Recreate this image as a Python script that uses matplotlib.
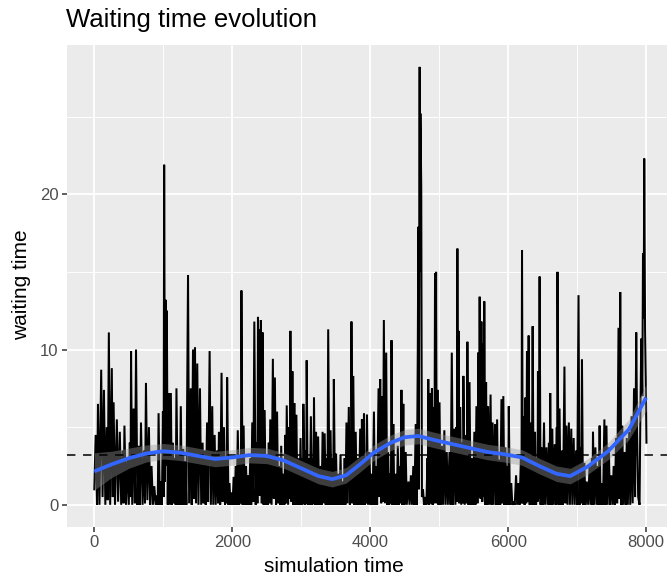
import matplotlib
matplotlib.use("Agg")
import matplotlib.pyplot as plt

plt.rcParams['font.family'] = ['Liberation Sans', 'DejaVu Sans']

# ---- data ----
sim_time = [
    0, 20, 40, 53, 75, 100, 120, 140, 160, 180, 195, 211, 230, 254, 268, 280, 300, 327, 345, 370,
    390, 410, 425, 437, 460, 480, 500, 515, 525, 533, 550, 570, 588, 605, 625, 645, 660, 677, 700, 720,
    735, 749, 770, 792, 810, 830, 850, 870, 890, 910, 920, 932, 950, 965, 980, 995, 1005, 1013, 1025, 1035,
    1045, 1052, 1065, 1080, 1095, 1110, 1125, 1140, 1155, 1170, 1180, 1191, 1210, 1230, 1240, 1254, 1270, 1290, 1305, 1320,
    1335, 1359, 1375, 1398, 1412, 1431, 1445, 1460, 1475, 1493, 1510, 1532, 1550, 1570, 1585, 1600, 1615, 1635, 1650, 1672,
    1690, 1710, 1725, 1745, 1760, 1780, 1795, 1807, 1825, 1845, 1860, 1880, 1895, 1910, 1918, 1926, 1945, 1960, 1975, 1990,
    2005, 2020, 2035, 2050, 2065, 2080, 2100, 2115, 2125, 2133, 2150, 2165, 2180, 2200, 2215, 2230, 2245, 2260, 2275, 2290,
    2305, 2320, 2340, 2355, 2365, 2373, 2388, 2400, 2406, 2415, 2428, 2440, 2455, 2470, 2485, 2500, 2515, 2530, 2540, 2551,
    2570, 2589, 2603, 2618, 2635, 2650, 2665, 2680, 2695, 2710, 2725, 2740, 2755, 2770, 2780, 2790, 2810, 2825, 2835, 2843,
    2858, 2872, 2886, 2900, 2915, 2930, 2945, 2960, 2975, 2990, 3005, 3018, 3025, 3031, 3050, 3065, 3072, 3079, 3095, 3110,
    3125, 3140, 3160, 3172, 3178, 3185, 3200, 3215, 3230, 3245, 3260, 3280, 3295, 3310, 3325, 3340, 3355, 3370, 3380, 3391,
    3410, 3425, 3440, 3455, 3463, 3473, 3490, 3505, 3520, 3540, 3555, 3570, 3585, 3600, 3615, 3630, 3640, 3656, 3670, 3690,
    3705, 3716, 3722, 3728, 3740, 3755, 3770, 3790, 3805, 3820, 3835, 3855, 3868, 3880, 3895, 3910, 3925, 3940, 3946, 3953,
    3970, 3990, 4005, 4020, 4035, 4054, 4070, 4085, 4100, 4121, 4133, 4145, 4160, 4172, 4185, 4198, 4215, 4232, 4245, 4260,
    4275, 4290, 4300, 4309, 4322, 4335, 4350, 4370, 4385, 4400, 4415, 4430, 4440, 4453, 4466, 4480, 4495, 4515, 4530, 4555,
    4570, 4590, 4605, 4625, 4640, 4660, 4675, 4690, 4698, 4705, 4717, 4722, 4728, 4740, 4750, 4765, 4780, 4800, 4815, 4830,
    4836, 4842, 4855, 4870, 4882, 4895, 4905, 4918, 4930, 4940, 4947, 4955, 4965, 4975, 4990, 5005, 5020, 5040, 5055, 5075,
    5090, 5110, 5125, 5150, 5165, 5183, 5200, 5220, 5235, 5250, 5258, 5264, 5272, 5280, 5290, 5305, 5320, 5340, 5346, 5351,
    5370, 5390, 5400, 5409, 5425, 5440, 5455, 5475, 5490, 5510, 5525, 5540, 5555, 5567, 5577, 5587, 5600, 5612, 5625, 5635,
    5645, 5654, 5668, 5680, 5695, 5710, 5725, 5745, 5760, 5775, 5790, 5810, 5825, 5840, 5855, 5870, 5885, 5903, 5915, 5930,
    5945, 5960, 5975, 5990, 6000, 6009, 6025, 6045, 6060, 6080, 6095, 6115, 6130, 6150, 6165, 6185, 6193, 6201, 6212, 6225,
    6238, 6250, 6262, 6273, 6285, 6297, 6312, 6330, 6342, 6355, 6370, 6390, 6405, 6420, 6426, 6432, 6443, 6456, 6470, 6485,
    6500, 6520, 6535, 6555, 6570, 6590, 6600, 6610, 6625, 6640, 6655, 6675, 6690, 6705, 6710, 6715, 6730, 6745, 6760, 6780,
    6795, 6816, 6830, 6845, 6860, 6880, 6895, 6915, 6930, 6950, 6965, 6985, 7000, 7020, 7035, 7050, 7060, 7070, 7085, 7105,
    7120, 7140, 7160, 7180, 7195, 7215, 7222, 7230, 7245, 7265, 7280, 7300, 7312, 7326, 7340, 7360, 7375, 7395, 7410, 7425,
    7440, 7460, 7475, 7495, 7510, 7530, 7545, 7565, 7580, 7600, 7612, 7625, 7640, 7655, 7670, 7690, 7705, 7720, 7735, 7755,
    7770, 7790, 7805, 7825, 7840, 7857, 7870, 7885, 7905, 7915, 7930, 7945, 7955, 7965, 7973, 7985, 7995, 8005,
]
waiting_time = [
    1.0, 4.5, 0.0, 6.5, 0.0, 8.7, 0.5, 7.4, 0.0, 5.0, 0.3, 11.1, 0.0, 8.8, 0.5, 6.6, 0.0, 5.5, 0.2, 4.7,
    0.0, 3.5, 0.1, 5.1, 0.0, 3.0, 0.0, 4.0, 0.5, 9.9, 0.0, 6.2, 0.1, 10.0, 0.0, 3.8, 0.0, 5.3, 0.0, 3.5,
    0.1, 7.85, 0.3, 5.0, 0.0, 2.5, 0.0, 1.2, 0.0, 0.6, 0.0, 5.9, 0.0, 1.5, 0.0, 6.0, 0.5, 21.9, 1.5, 13.2,
    2.5, 12.5, 0.0, 7.2, 0.0, 7.2, 0.0, 4.0, 0.1, 3.0, 0.0, 7.5, 0.0, 3.5, 0.0, 6.35, 0.0, 3.6, 0.0, 2.8,
    0.0, 14.8, 0.1, 7.5, 0.0, 10.0, 0.4, 10.15, 0.1, 9.1, 0.0, 7.5, 0.0, 4.0, 0.1, 3.5, 0.0, 5.3, 0.2, 9.9,
    0.0, 6.35, 0.0, 4.5, 0.0, 3.5, 0.1, 4.7, 0.0, 8.5, 0.2, 5.0, 0.0, 3.0, 0.1, 8.2, 0.0, 1.4, 0.0, 0.8,
    0.0, 1.8, 0.0, 2.5, 0.0, 4.8, 0.0, 3.0, 0.1, 13.8, 0.0, 5.1, 0.0, 2.5, 0.0, 1.9, 0.0, 3.0, 0.0, 5.3,
    0.2, 11.8, 0.0, 4.0, 0.1, 12.1, 0.6, 11.3, 0.6, 11.9, 0.1, 11.1, 0.0, 6.1, 0.0, 3.0, 0.0, 4.0, 0.1, 5.5,
    0.0, 9.4, 0.4, 8.2, 0.0, 6.0, 0.1, 2.5, 0.0, 3.8, 0.0, 2.0, 0.0, 4.5, 0.1, 6.4, 0.0, 5.0, 0.4, 11.2,
    0.2, 8.6, 0.0, 6.55, 0.0, 5.8, 0.0, 3.0, 0.0, 4.3, 0.0, 3.0, 0.1, 6.5, 0.0, 3.5, 0.1, 9.3, 0.0, 3.0,
    0.0, 5.7, 0.0, 3.0, 0.1, 6.9, 0.0, 4.7, 0.0, 4.4, 0.0, 2.5, 0.0, 4.7, 0.1, 4.6, 0.0, 3.0, 0.0, 11.3,
    0.0, 4.8, 0.0, 3.0, 0.0, 8.1, 0.0, 3.3, 0.0, 2.0, 0.0, 3.2, 0.0, 1.5, 0.0, 3.0, 0.0, 5.3, 0.1, 6.3,
    0.0, 4.0, 0.2, 11.8, 0.1, 8.3, 0.0, 4.7, 0.0, 3.0, 0.0, 4.9, 0.0, 5.5, 0.0, 5.9, 0.0, 3.0, 0.1, 5.8,
    0.0, 3.4, 0.0, 2.0, 0.0, 6.0, 0.0, 2.5, 0.0, 7.5, 0.5, 8.1, 0.1, 7.0, 0.2, 11.9, 0.1, 9.8, 0.0, 3.4,
    0.0, 2.0, 0.1, 10.6, 0.0, 5.2, 0.0, 2.0, 0.0, 3.8, 0.0, 2.5, 0.1, 7.4, 0.0, 6.5, 0.0, 3.4, 0.0, 1.5,
    0.0, 1.9, 0.0, 2.5, 0.0, 5.2, 0.0, 10.0, 17.9, 1.0, 28.2, 15.0, 25.2, 20.5, 0.5, 1.0, 0.0, 0.5, 0.0, 3.0,
    0.1, 8.1, 0.0, 7.2, 0.1, 7.5, 0.0, 6.3, 0.1, 14.9, 1.5, 15.0, 0.1, 7.4, 0.0, 6.6, 0.0, 3.8, 0.0, 4.8,
    0.0, 3.4, 0.0, 3.4, 0.0, 9.8, 0.0, 4.9, 0.0, 5.0, 0.2, 16.5, 1.5, 11.2, 0.1, 6.3, 0.0, 4.0, 0.1, 8.3,
    0.0, 4.5, 0.1, 10.5, 0.0, 7.9, 0.0, 3.0, 0.0, 4.7, 0.0, 6.35, 0.1, 9.8, 0.5, 13.4, 0.4, 11.8, 0.2, 10.4,
    0.5, 13.1, 0.0, 7.9, 0.0, 6.35, 0.0, 7.1, 0.0, 5.3, 0.0, 5.2, 0.0, 5.5, 0.0, 2.9, 0.0, 6.8, 0.1, 7.0,
    0.0, 3.7, 0.0, 2.5, 0.0, 6.35, 0.0, 1.4, 0.0, 0.2, 0.0, 1.9, 0.0, 1.4, 0.0, 3.0, 0.1, 16.4, 0.1, 5.7,
    0.0, 6.9, 0.1, 9.9, 0.2, 10.9, 0.0, 5.3, 0.0, 11.5, 0.0, 4.7, 0.0, 3.0, 0.2, 8.6, 0.4, 14.7, 0.0, 3.7,
    0.0, 5.3, 0.0, 3.7, 0.0, 4.0, 0.0, 7.2, 0.0, 4.9, 0.0, 3.9, 0.0, 5.0, 0.1, 15.0, 0.0, 6.2, 0.0, 3.5,
    0.0, 8.9, 0.1, 5.1, 0.0, 5.3, 0.0, 4.9, 0.0, 4.3, 0.0, 3.5, 0.0, 13.5, 0.0, 3.7, 0.1, 9.35, 0.0, 2.7,
    0.0, 1.5, 0.0, 2.5, 0.0, 3.0, 0.0, 4.7, 0.0, 3.7, 0.0, 2.5, 0.0, 5.1, 0.0, 1.4, 0.0, 5.5, 0.0, 5.1,
    0.0, 3.7, 0.0, 1.9, 0.0, 2.5, 0.0, 4.3, 0.1, 11.4, 0.4, 13.7, 0.0, 5.1, 0.0, 3.4, 0.0, 4.3, 0.0, 4.7,
    0.0, 5.7, 0.1, 7.5, 0.5, 11.1, 4.5, 0.5, 0.0, 5.0, 10.7, 7.0, 16.2, 12.0, 22.3, 11.3, 8.0, 4.0,
]

smooth_time = [0, 250, 500, 750, 1000, 1250, 1500, 1750, 2000, 2250, 2500, 2750, 3000, 3250, 3450, 3650,
               3850, 4050, 4300, 4500, 4700, 4950, 5200, 5450, 5700, 5950, 6200, 6450, 6700, 6900, 7150,
               7450, 7750, 8000]
smooth_wait = [2.15, 2.6, 3.0, 3.3, 3.45, 3.35, 3.15, 2.95, 3.05, 3.2, 3.15, 2.85, 2.35, 1.85, 1.65, 1.9,
               2.6, 3.35, 4.0, 4.35, 4.43, 4.15, 3.9, 3.65, 3.4, 3.25, 3.05, 2.5, 2.0, 1.85, 2.45,
               3.45, 4.85, 6.9]
smooth_se = [1.2, 0.85, 0.65, 0.55, 0.5, 0.5, 0.5, 0.5, 0.5, 0.5, 0.5, 0.5, 0.5, 0.5, 0.5, 0.5,
             0.5, 0.5, 0.5, 0.5, 0.5, 0.5, 0.5, 0.5, 0.5, 0.5, 0.5, 0.5, 0.5, 0.5, 0.5,
             0.55, 0.65, 0.85]

mean_wait = 3.2

x_ticks = [0, 2000, 4000, 6000, 8000]
x_minor = [1000, 3000, 5000, 7000]
y_ticks = [0, 10, 20]
y_minor = [5, 15, 25]

# ---- figure ----
W, H = 667, 581
fig = plt.figure(figsize=(W / 100, H / 100), dpi=100)
ax = fig.add_axes([66.7 / W, (H - 526.7) / H, (673.7 - 66.7) / W, (526.7 - 45) / H])
ax.set_facecolor('#EBEBEB')
for s in ax.spines.values():
    s.set_visible(False)

ax.set_xlim(-400, 8400)
ax.set_ylim(-1.41, 29.61)
ax.set_xticks(x_ticks)
ax.set_xticks(x_minor, minor=True)
ax.set_yticks(y_ticks)
ax.set_yticks(y_minor, minor=True)
ax.set_xticklabels([str(v) for v in x_ticks])
ax.set_yticklabels([str(v) for v in y_ticks])
ax.grid(which='major', color='white', linewidth=1.3)
ax.grid(which='minor', color='white', linewidth=0.65)
ax.set_axisbelow(True)
ax.tick_params(which='major', length=3.4, width=1.1, color='#333333',
               labelsize=12, labelcolor='#4D4D4D', pad=2.5)
ax.tick_params(which='minor', length=0)

ax.plot(sim_time, waiting_time, color='black', linewidth=1.45, solid_joinstyle='miter', zorder=2)

lo = [m - s for m, s in zip(smooth_wait, smooth_se)]
hi = [m + s for m, s in zip(smooth_wait, smooth_se)]
ax.fill_between(smooth_time, lo, hi, color='#999999', alpha=0.4, linewidth=0, zorder=3)
ax.axhline(mean_wait, color='black', linewidth=1.1, dashes=(5.5, 5), zorder=4)
ax.plot(smooth_time, smooth_wait, color='#3366FF', linewidth=2.7, zorder=5,
        solid_capstyle='butt')

fig.text(66 / W, 1 - 20 / H, 'Waiting time evolution', fontsize=18.5, ha='left', va='center',
         color='black')
fig.text(0.5, 1 - 566 / H, 'simulation time', fontsize=15, ha='center', va='center')
fig.text(22 / W, 1 - 285 / H, 'waiting time', fontsize=15, ha='center', va='center',
         rotation=90)

fig.savefig('out.png', dpi=100)
